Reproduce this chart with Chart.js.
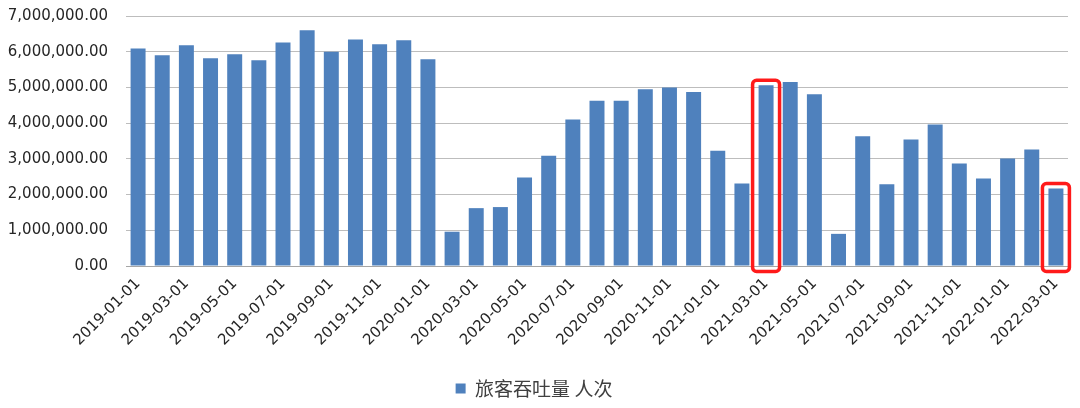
<!DOCTYPE html>
<html>
<head>
<meta charset="utf-8">
<script src="https://cdn.jsdelivr.net/npm/chart.js@4/dist/chart.umd.min.js"></script>
<style>
  html, body { margin: 0; padding: 0; background: #fff; overflow: hidden; }
  #wrap { width: 1080px; height: 408px; overflow: hidden; }
  #inner { width: 1080px; height: 419px; margin-top: -11px; }
</style>
</head>
<body>
<div id="wrap"><div id="inner"><canvas id="chart"></canvas></div></div>
<script>
const months = [
  "2019-01-01", "2019-02-01", "2019-03-01", "2019-04-01", "2019-05-01", "2019-06-01",
  "2019-07-01", "2019-08-01", "2019-09-01", "2019-10-01", "2019-11-01", "2019-12-01",
  "2020-01-01", "2020-02-01", "2020-03-01", "2020-04-01", "2020-05-01", "2020-06-01",
  "2020-07-01", "2020-08-01", "2020-09-01", "2020-10-01", "2020-11-01", "2020-12-01",
  "2021-01-01", "2021-02-01", "2021-03-01", "2021-04-01", "2021-05-01", "2021-06-01",
  "2021-07-01", "2021-08-01", "2021-09-01", "2021-10-01", "2021-11-01", "2021-12-01",
  "2022-01-01", "2022-02-01", "2022-03-01"
];

const passengers = [
  6090000, 5900000, 6180000, 5820000, 5930000, 5760000,
  6260000, 6600000, 6000000, 6340000, 6210000, 6320000,
  5790000, 960000, 1620000, 1650000, 2480000, 3090000,
  4100000, 4630000, 4630000, 4950000, 5000000, 4870000,
  3230000, 2310000, 5060000, 5150000, 4810000, 900000,
  3630000, 2290000, 3540000, 3960000, 2870000, 2450000,
  3010000, 3260000, 2170000
];

const seriesName = "旅客吞吐量 人次";
const highlighted = ["2021-03-01", "2022-03-01"];

const latin = "'DejaVu Sans', sans-serif";
const cjk = "'Noto Sans CJK SC', sans-serif";

const highlightBoxes = {
  id: "highlightBoxes",
  afterDatasetsDraw(chart) {
    const meta = chart.getDatasetMeta(0);
    const ctx = chart.ctx;
    ctx.save();
    ctx.strokeStyle = "#ff1a1a";
    ctx.lineWidth = 3.5;
    highlighted.forEach((m) => {
      const bar = meta.data[months.indexOf(m)];
      if (!bar) return;
      const x0 = bar.x - bar.width / 2 - 6;
      const x1 = bar.x + bar.width / 2 + 6;
      const y0 = bar.y - 5;
      const y1 = bar.base + 6;
      ctx.beginPath();
      ctx.roundRect(x0, y0, x1 - x0, y1 - y0, 4);
      ctx.stroke();
    });
    ctx.restore();
  }
};

new Chart(document.getElementById("chart"), {
  type: "bar",
  data: {
    labels: months,
    datasets: [
      {
        label: seriesName,
        data: passengers,
        backgroundColor: "#4f81bd",
        barPercentage: 0.62,
        categoryPercentage: 1
      }
    ]
  },
  options: {
    responsive: true,
    maintainAspectRatio: false,
    animation: false,
    layout: { padding: { top: 0, right: 12, left: 0, bottom: 0 } },
    plugins: {
      tooltip: { enabled: false },
      legend: {
        position: "bottom",
        labels: {
          boxWidth: 10,
          boxHeight: 10,
          padding: 10,
          color: "#404040",
          font: { family: cjk, size: 19 }
        }
      }
    },
    scales: {
      x: {
        grid: { display: false, drawTicks: false },
        border: { color: "#a6a6a6" },
        ticks: {
          autoSkip: false,
          maxRotation: 45,
          minRotation: 45,
          padding: 9,
          color: "#262626",
          font: { family: latin, size: 15 },
          callback: (v, i) => (i % 2 === 0 ? months[i] : "")
        },
        afterFit: (scale) => { scale.height = 103; }
      },
      y: {
        min: 0,
        max: 7000000,
        grid: { color: "#bdbdbd", drawTicks: false },
        border: { display: false },
        ticks: {
          stepSize: 1000000,
          padding: 18,
          color: "#262626",
          font: { family: latin, size: 15 },
          callback: (v) => v.toLocaleString("en-US", { minimumFractionDigits: 2, maximumFractionDigits: 2 })
        },
        afterFit: (scale) => { scale.width = 126; }
      }
    }
  },
  plugins: [highlightBoxes]
});
</script>
</body>
</html>
